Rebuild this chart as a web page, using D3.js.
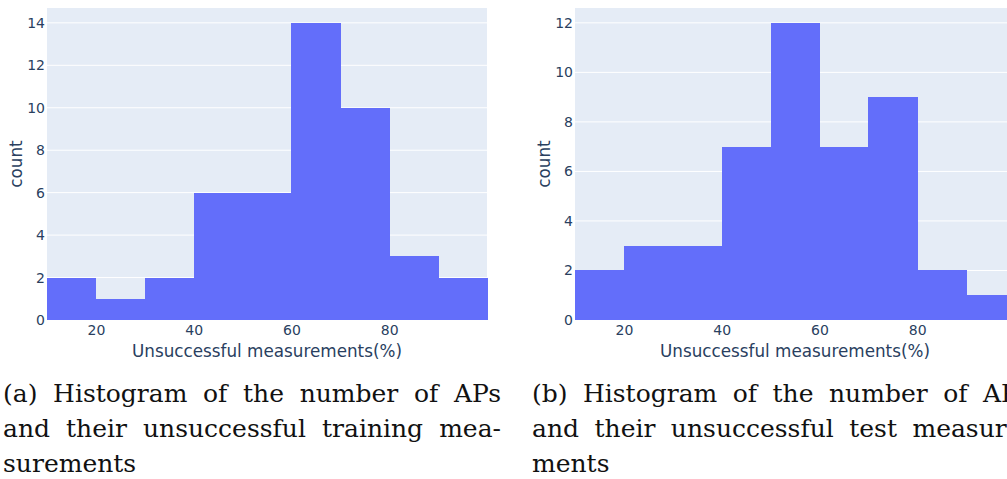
<html>
    <head>
        <script src="https://d3js.org/d3.v7.min.js"></script>
        <style>
            body { margin: 0; background: white; }
        </style>
    </head>

    <body>
        <script>
            // histogram bins (percent of unsuccessful measurements) and counts per bin
            var binEdges = [10, 20, 30, 40, 50, 60, 70, 80, 90, 100];
            var trainCounts = [2, 1, 2, 6, 6, 14, 10, 3, 2];
            var testCounts = [2, 3, 3, 7, 12, 7, 9, 2, 1];
            var xTicks = [20, 40, 60, 80];
            var trainYTicks = [0, 2, 4, 6, 8, 10, 12, 14];
            var testYTicks = [0, 2, 4, 6, 8, 10, 12];
            var xTitle = "Unsuccessful measurements(%)";
            var yTitle = "count";
            var captionA = [
                "(a) Histogram of the number of APs",
                "and their unsuccessful training mea-",
                "surements"
            ];
            var captionB = [
                "(b) Histogram of the number of APs",
                "and their unsuccessful test measure-",
                "ments"
            ];

            var W = 1007, H = 479;
            var fontColor = "#2a3f5f";

            var svg = d3.select("body")
                .append("svg")
                .attr("width", W)
                .attr("height", H);

            svg.append("rect")
                .attr("width", W)
                .attr("height", H)
                .attr("fill", "white");

            function drawHist(left, right, counts, yTicks, countX) {
                var top = 8, bottom = 320;

                var x = d3.scaleLinear()
                    .domain([binEdges[0], binEdges[binEdges.length - 1]])
                    .range([left, right]);
                var y = d3.scaleLinear()
                    .domain([0, d3.max(counts) * 1.05])
                    .range([bottom, top]);

                var g = svg.append("g");

                // plot background
                g.append("rect")
                    .attr("x", left)
                    .attr("y", top)
                    .attr("width", right - left)
                    .attr("height", bottom - top)
                    .attr("fill", "#e5ecf6");

                // horizontal grid lines
                g.append("g")
                    .selectAll("line")
                    .data(yTicks.filter(function(d) { return d > 0; }))
                    .join("line")
                    .attr("x1", left)
                    .attr("x2", right)
                    .attr("y1", function(d) { return y(d); })
                    .attr("y2", function(d) { return y(d); })
                    .attr("stroke", "white")
                    .attr("stroke-width", 1);

                // bars, no gaps between them
                g.append("g")
                    .attr("shape-rendering", "crispEdges")
                    .selectAll("rect")
                    .data(counts)
                    .join("rect")
                    .attr("x", function(d, i) { return x(binEdges[i]); })
                    .attr("width", function(d, i) { return x(binEdges[i + 1]) - x(binEdges[i]) + 0.5; })
                    .attr("y", function(d) { return y(d); })
                    .attr("height", function(d) { return bottom - y(d); })
                    .attr("fill", "#636efa");

                // y axis
                var ya = g.append("g")
                    .attr("transform", "translate(" + left + ",0)")
                    .call(d3.axisLeft(y).tickValues(yTicks).tickSize(0).tickPadding(2));
                ya.select(".domain").remove();

                // x axis
                var xa = g.append("g")
                    .attr("transform", "translate(0," + bottom + ")")
                    .call(d3.axisBottom(x).tickValues(xTicks).tickSize(0).tickPadding(5));
                xa.select(".domain").remove();

                g.selectAll(".tick text")
                    .attr("fill", fontColor)
                    .style("font-family", "'DejaVu Sans', sans-serif")
                    .style("font-size", "14px");

                // axis titles
                g.append("text")
                    .attr("x", (left + right) / 2)
                    .attr("y", 357)
                    .attr("text-anchor", "middle")
                    .attr("fill", fontColor)
                    .style("font-family", "'DejaVu Sans', sans-serif")
                    .style("font-size", "16.8px")
                    .text(xTitle);

                g.append("text")
                    .attr("transform", "translate(" + countX + "," + (top + bottom) / 2 + ") rotate(-90)")
                    .attr("text-anchor", "middle")
                    .attr("fill", fontColor)
                    .style("font-family", "'DejaVu Sans', sans-serif")
                    .style("font-size", "16.8px")
                    .text(yTitle);
            }

            // justified caption lines, last line left aligned
            function drawCaption(lines, x0, width) {
                var baselines = [402, 437, 471.5];
                lines.forEach(function(line, li) {
                    var words = line.split(" ");
                    var t = svg.append("text")
                        .attr("y", baselines[li])
                        .attr("fill", "#111")
                        .style("font-family", "'DejaVu Serif', 'Liberation Serif', serif")
                        .style("font-size", "25px");
                    var spans = words.map(function(w) {
                        return t.append("tspan").text(w);
                    });
                    var widths = spans.map(function(s) { return s.node().getComputedTextLength(); });
                    var gap = 8;
                    if (li < lines.length - 1 && words.length > 1) {
                        gap = (width - d3.sum(widths)) / (words.length - 1);
                    }
                    var cx = x0;
                    spans.forEach(function(s, i) {
                        s.attr("x", cx);
                        cx += widths[i] + gap;
                    });
                });
            }

            drawHist(47, 487, trainCounts, trainYTicks, 21.5);
            drawHist(575, 1015, testCounts, testYTicks, 550);

            drawCaption(captionA, 3, 498);
            drawCaption(captionB, 532, 498);
        </script>
    </body>
</html>
